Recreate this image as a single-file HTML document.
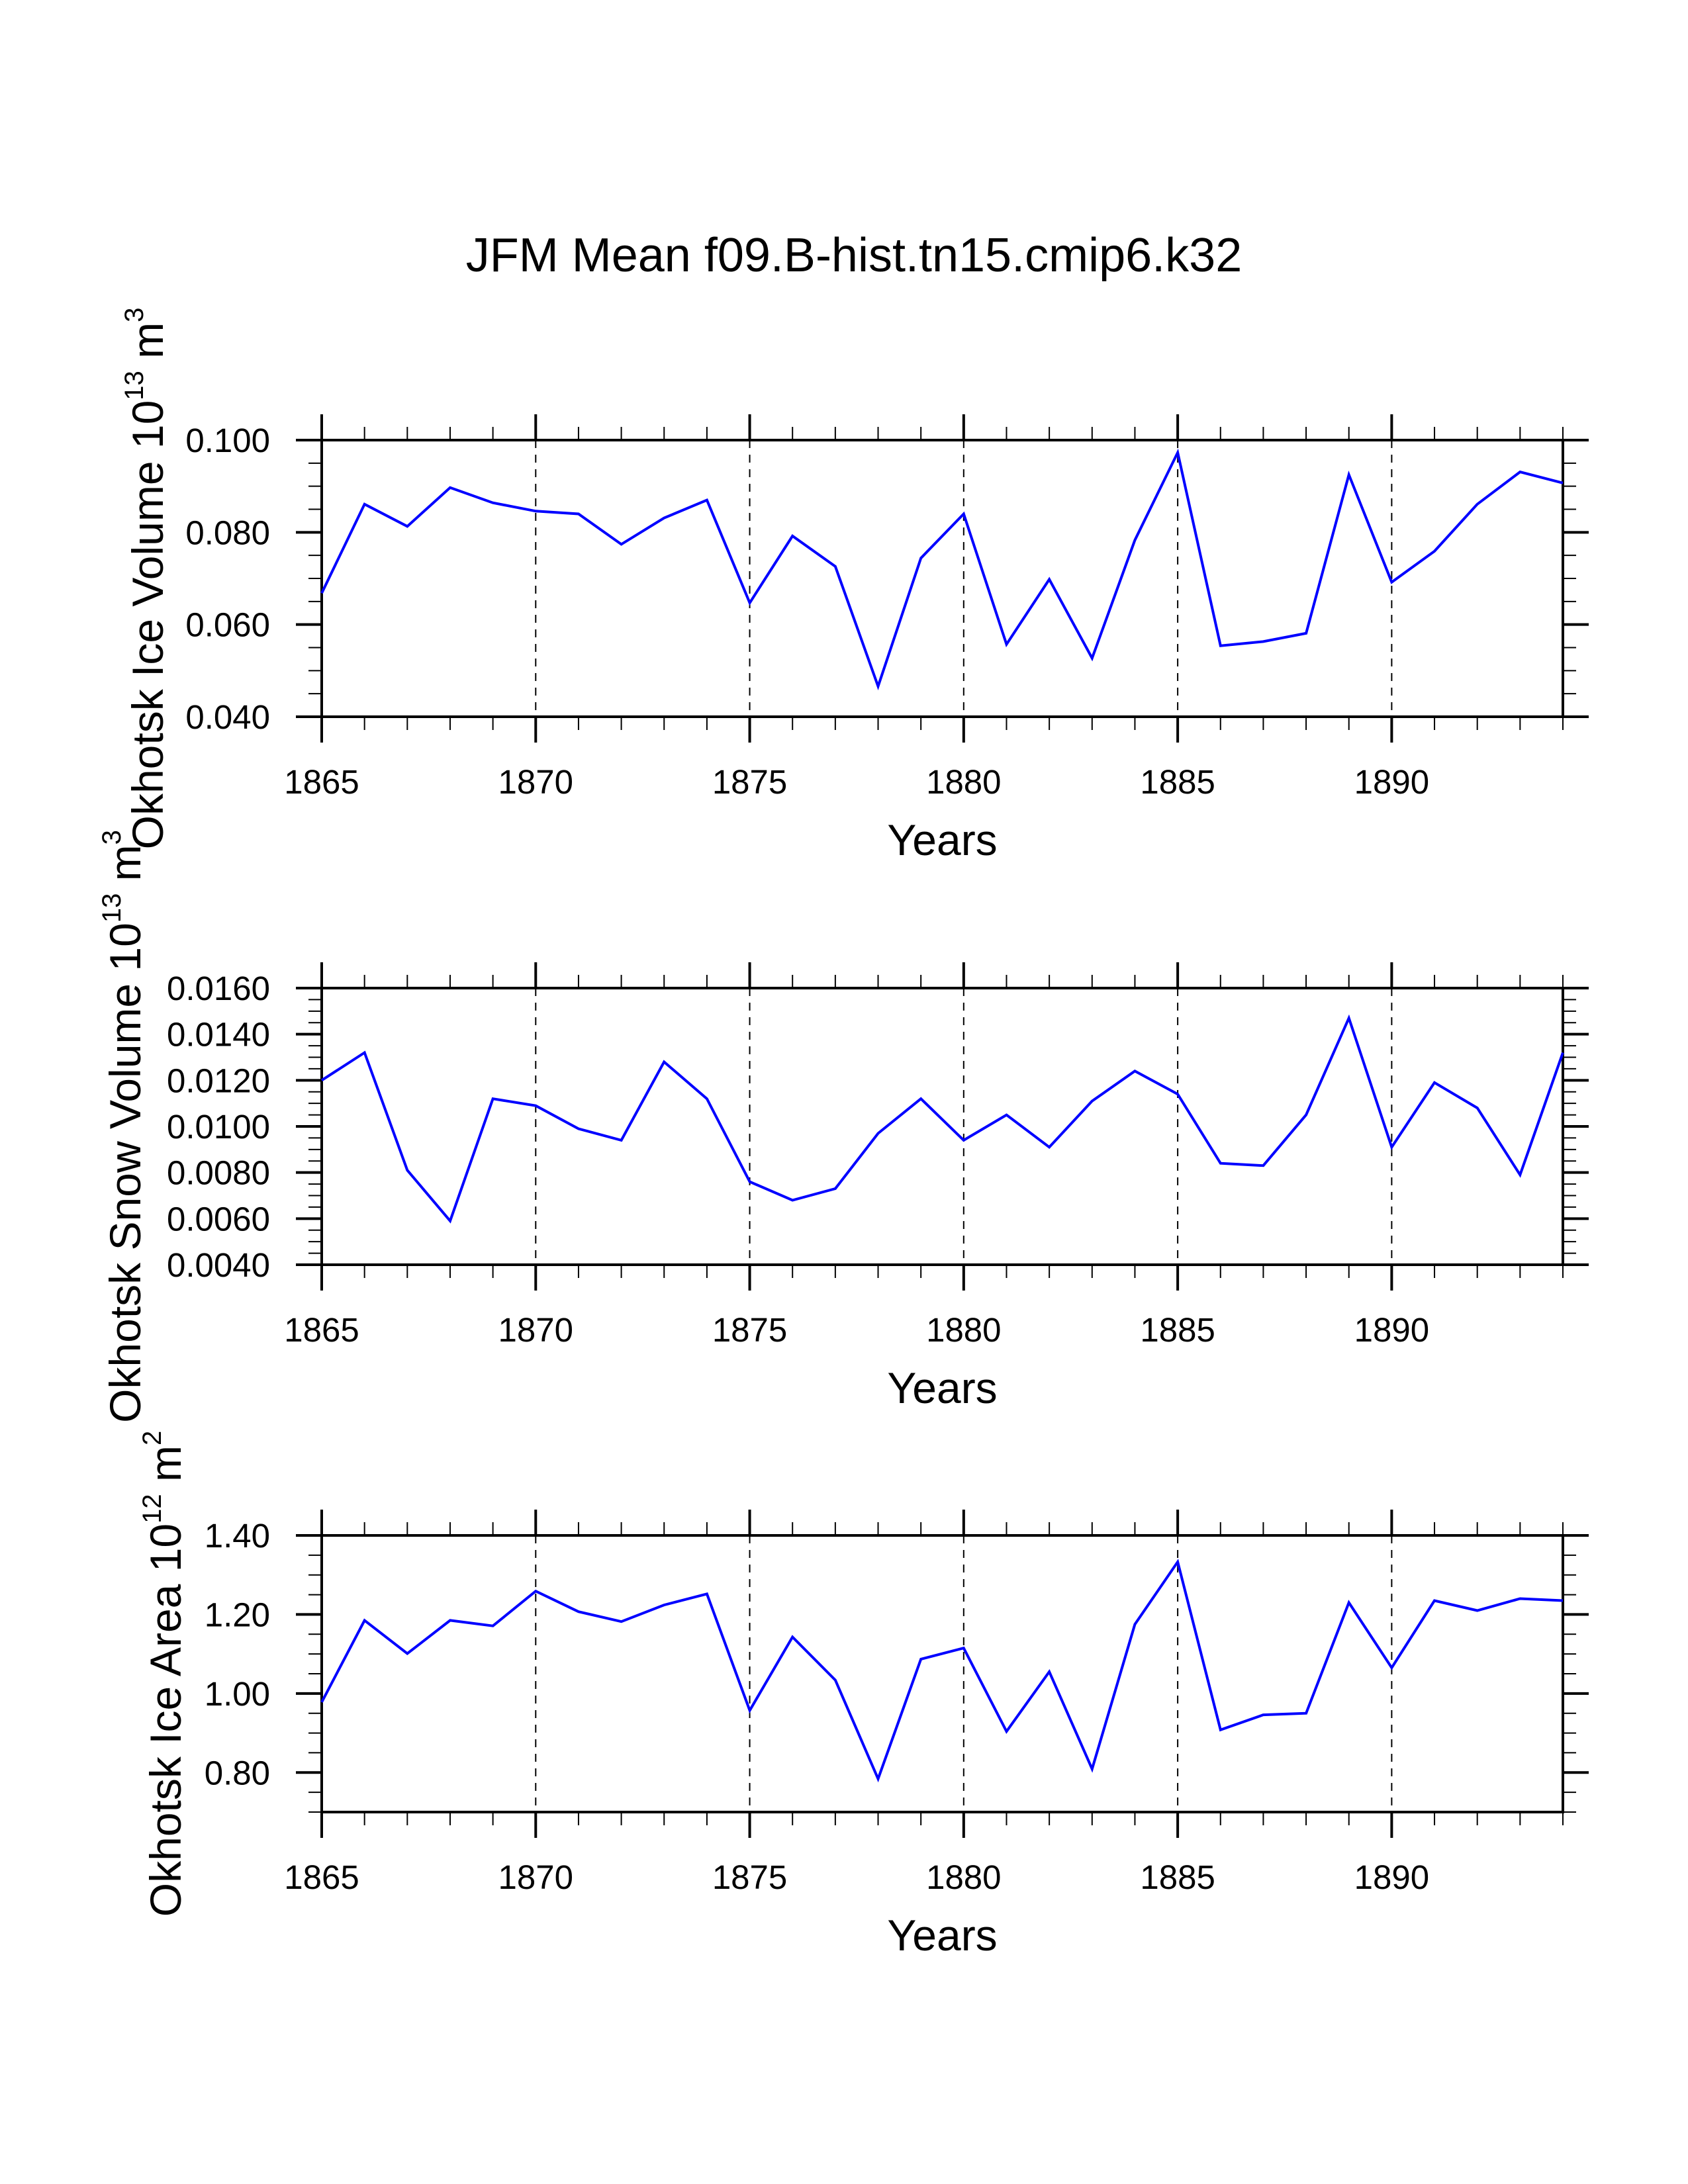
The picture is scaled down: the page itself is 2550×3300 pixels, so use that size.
<!DOCTYPE html>
<html><head><meta charset="utf-8"><style>
html,body{margin:0;padding:0;background:#fff;}
svg{display:block;font-family:"Liberation Sans",sans-serif;}
</style></head><body>
<svg id="chart" width="2550" height="3300" viewBox="0 0 2550 3300" xmlns="http://www.w3.org/2000/svg">
<text x="1290" y="410" font-size="72" text-anchor="middle">JFM Mean f09.B-hist.tn15.cmip6.k32</text>
</svg>
<script>
const years = [1865,1866,1867,1868,1869,1870,1871,1872,1873,1874,1875,1876,1877,1878,1879,1880,1881,1882,1883,1884,1885,1886,1887,1888,1889,1890,1891,1892,1893,1894];
const iceVolume = [0.0668,0.0861,0.0813,0.0897,0.0864,0.0846,0.0840,0.0774,0.0831,0.0870,0.0647,0.0792,0.0726,0.0466,0.0744,0.0840,0.0557,0.0698,0.0527,0.0783,0.0973,0.0554,0.0563,0.0581,0.0925,0.0692,0.0759,0.0861,0.0931,0.0907];
const snowVolume = [0.0120,0.0132,0.0081,0.0059,0.0112,0.0109,0.0099,0.0094,0.0128,0.0112,0.0076,0.0068,0.0073,0.0097,0.0112,0.0094,0.0105,0.0091,0.0111,0.0124,0.0114,0.0084,0.0083,0.0105,0.0147,0.0091,0.0119,0.0108,0.0079,0.0132];
const iceArea = [0.978,1.185,1.101,1.185,1.171,1.259,1.207,1.182,1.224,1.252,0.957,1.143,1.034,0.784,1.087,1.115,0.904,1.055,0.809,1.175,1.333,0.908,0.946,0.950,1.230,1.065,1.235,1.210,1.240,1.235];
const xTickLabels = ["1865","1870","1875","1880","1885","1890"];
const iceVolTicks = ["0.040","0.060","0.080","0.100"];
const snowVolTicks = ["0.0040","0.0060","0.0080","0.0100","0.0120","0.0140","0.0160"];
const iceAreaTicks = ["0.80","1.00","1.20","1.40"];

const NS = "http://www.w3.org/2000/svg";
const svg = document.getElementById('chart');
const X0 = 486, X1 = 2361, YR0 = 1865, YR1 = 1894;
function xs(y){ return X0 + (y-YR0)/(YR1-YR0)*(X1-X0); }
function mk(tag, attrs, parent){
  const e = document.createElementNS(NS, tag);
  for (const k in attrs) e.setAttribute(k, attrs[k]);
  (parent||svg).appendChild(e);
  return e;
}
const panels = [
  {top:665, ymin:0.040, ymax:0.100, minor:0.005, ticks:iceVolTicks, data:iceVolume, name:'ice-volume', tx:246, title:['Okhotsk Ice Volume 10','13',' m','3']},
  {top:1493, ymin:0.004, ymax:0.016, minor:0.0005, ticks:snowVolTicks, data:snowVolume, name:'snow-volume', tx:212, title:['Okhotsk Snow Volume 10','13',' m','3']},
  {top:2320, ymin:0.70, ymax:1.40, minor:0.05, ticks:iceAreaTicks, data:iceArea, name:'ice-area', tx:273, title:['Okhotsk Ice Area 10','12',' m','2']}
];
const H = 418;
panels.forEach(p => {
  const top = p.top, bot = top + H;
  const ys = v => bot - (v - p.ymin)/(p.ymax - p.ymin)*H;
  const g = mk('g', {});
  
  
  xTickLabels.forEach(t => {
    const yr = +t;
    if (yr === YR0) return;
    const l = mk('line', {x1:xs(yr), x2:xs(yr), y1:top, y2:bot, stroke:'#000', 'stroke-width':2, 'stroke-dasharray':'12,10'}, g);
    
    
  });
  for (let yr = YR0; yr <= YR1; yr++) {
    const major = (yr % 5 === 0);
    const len = major ? 39 : 20, w = major ? 4 : 2;
    mk('line', {x1:xs(yr), x2:xs(yr), y1:bot, y2:bot+len, stroke:'#000', 'stroke-width':w}, g);
    mk('line', {x1:xs(yr), x2:xs(yr), y1:top, y2:top-len, stroke:'#000', 'stroke-width':w}, g);
  }
  const n = Math.round((p.ymax - p.ymin)/p.minor);
  const majorVals = p.ticks.map(Number);
  for (let i = 0; i <= n; i++) {
    const v = p.ymin + i*p.minor;
    const major = majorVals.some(m => Math.abs(m - v) < p.minor/10);
    const len = major ? 39 : 20, w = major ? 4 : 2;
    const y = ys(v);
    mk('line', {x1:X0-len, x2:X0, y1:y, y2:y, stroke:'#000', 'stroke-width':w}, g);
    mk('line', {x1:X1, x2:X1+len, y1:y, y2:y, stroke:'#000', 'stroke-width':w}, g);
  }
  const r = mk('rect', {x:X0, y:top, width:X1-X0, height:H, fill:'none', stroke:'#000', 'stroke-width':4}, g);
  
  
  p.ticks.forEach(t => {
    const tx = mk('text', {x:408, y:ys(+t)+18, 'font-size':51, 'text-anchor':'end'}, g);
    
    
    tx.textContent = t;
  });
  xTickLabels.forEach(t => {
    const tx = mk('text', {x:xs(+t), y:bot+116, 'font-size':51, 'text-anchor':'middle'}, g);
    
    
    tx.textContent = t;
  });
  const xt = mk('text', {x:(X0+X1)/2, y:bot+209, 'font-size':66, 'text-anchor':'middle'}, g);
  
  
  xt.textContent = 'Years';
  const cy = (top+bot)/2;
  const yt = mk('text', {x:p.tx, y:cy, 'font-size':66, 'text-anchor':'middle', transform:'rotate(-90 '+p.tx+' '+cy+')'}, g);
  
  
  const s1 = mk('tspan', {}, yt); s1.textContent = p.title[0];
  const s2 = mk('tspan', {'font-size':40, dy:-30}, yt); s2.textContent = p.title[1];
  const s3 = mk('tspan', {dy:30}, yt); s3.textContent = p.title[2];
  const s4 = mk('tspan', {'font-size':40, dy:-30}, yt); s4.textContent = p.title[3];
  const pts = p.data.map((v,i) => xs(years[i]).toFixed(1)+','+ys(v).toFixed(1)).join(' ');
  const pl = mk('polyline', {points:pts, fill:'none', stroke:'#0000ff', 'stroke-width':4, 'stroke-linejoin':'miter'}, g);
  
  
});
</script>
</body></html>
